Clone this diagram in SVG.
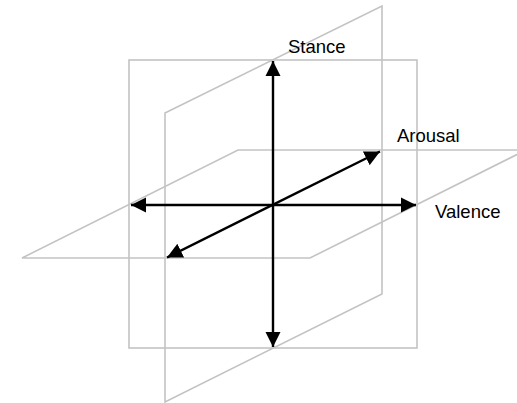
<svg xmlns="http://www.w3.org/2000/svg" width="517" height="403" viewBox="0 0 517 403">
<style>
.plane{fill:none;stroke:#c3c3c3;stroke-width:1.6}
.axis{stroke:#000;stroke-width:2.4;fill:none}
.lbl{font-family:"Liberation Sans",Arial,sans-serif;font-size:18.5px;fill:#000}
</style>
<defs>
<marker id="ah" viewBox="0 0 10 10" refX="10" refY="5" markerWidth="6.4" markerHeight="6.4" markerUnits="strokeWidth" orient="auto-start-reverse">
<path d="M0,0 L10,5 L0,10 Z" fill="#000"/>
</marker>
</defs>
<g id="planes">
<rect id="front-plane" class="plane" x="129" y="60" width="288" height="288"/>
<polygon id="vertical-plane" class="plane" points="165,113 382,6 382,294 165,402"/>
<polygon id="horizontal-plane" class="plane" points="22,258 238,150 526,150 310,258"/>
</g>
<g id="connectors">
<line id="stance-axis" class="axis" x1="273" y1="61" x2="273" y2="347" marker-start="url(#ah)" marker-end="url(#ah)"/>
<line id="valence-axis" class="axis" x1="131" y1="205" x2="416" y2="205" marker-start="url(#ah)" marker-end="url(#ah)"/>
<line id="arousal-axis" class="axis" x1="167" y1="257.5" x2="380" y2="151.5" marker-start="url(#ah)" marker-end="url(#ah)"/>
</g>
<g id="stance"><text class="lbl" x="288" y="53">Stance</text></g>
<g id="arousal"><text class="lbl" x="397" y="142">Arousal</text></g>
<g id="valence"><text class="lbl" x="435" y="218">Valence</text></g>
</svg>
